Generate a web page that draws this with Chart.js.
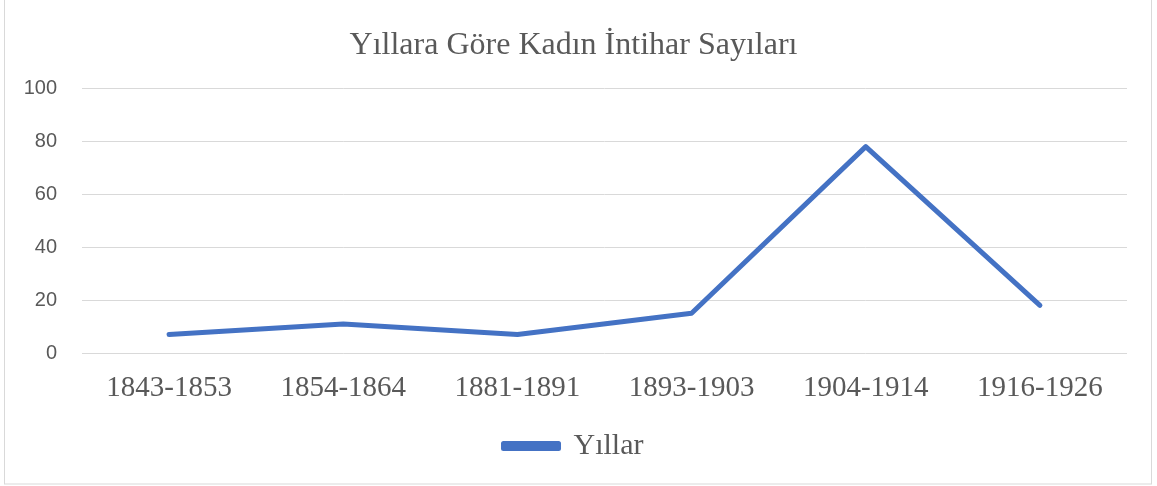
<!DOCTYPE html>
<html><head><meta charset="utf-8">
<script src="https://cdn.jsdelivr.net/npm/chart.js@4"></script>
<style>html,body{margin:0;padding:0;background:#fff;}#wrap{width:1157px;height:486px;position:relative;}</style>
</head><body><div id="wrap"><canvas id="c" width="1157" height="486"></canvas></div>
<script>
const categories = ["1843-1853","1854-1864","1881-1891","1893-1903","1904-1914","1916-1926"];
const seriesName = "Yıllar";
const values = [7, 11, 7, 15, 78, 18];
const titleText = "Yıllara Göre Kadın İntihar Sayıları";

const borderPlugin = {
  id: 'outerBorder',
  afterDraw(chart) {
    const ctx = chart.ctx;
    ctx.save();
    ctx.strokeStyle = '#d9d9d9';
    ctx.lineWidth = 1;
    ctx.strokeRect(4.5, -1, 1147, 485);
    ctx.restore();
  }
};

new Chart(document.getElementById('c'), {
  type: 'line',
  data: {
    labels: categories,
    datasets: [{
      label: seriesName,
      data: values,
      borderColor: '#4472c4',
      backgroundColor: '#4472c4',
      borderWidth: 5,
      pointRadius: 0,
      pointHoverRadius: 0,
      tension: 0,
      borderCapStyle: 'round',
      borderJoinStyle: 'round',
      fill: false
    }]
  },
  options: {
    responsive: false,
    animation: false,
    layout: { padding: { left: 20, right: 30, top: 0, bottom: 15 } },
    plugins: {
      title: {
        display: true,
        text: titleText,
        color: '#595959',
        font: { family: 'Liberation Serif', size: 32, weight: 'normal' },
        padding: { top: 26, bottom: 24 }
      },
      legend: {
        display: true,
        position: 'bottom',
        labels: {
          color: '#595959',
          font: { family: 'Liberation Serif', size: 30 },
          boxWidth: 55,
          boxHeight: 5,
          padding: 10
        }
      },
      tooltip: { enabled: false }
    },
    scales: {
      x: {
        offset: true,
        afterFit(scale) { scale.height = 68; },
        grid: { display: false, drawTicks: false },
        border: { display: false },
        ticks: {
          color: '#595959',
          font: { family: 'Liberation Serif', size: 29 },
          padding: 18,
          maxRotation: 0
        }
      },
      y: {
        min: 0, max: 100,
        afterFit(scale) { scale.width = 62; },
        grid: { color: '#d9d9d9', lineWidth: 1, drawTicks: false },
        border: { display: false },
        ticks: {
          stepSize: 20,
          color: '#595959',
          font: { family: 'Liberation Sans', size: 20 },
          padding: 25
        }
      }
    }
  },
  plugins: [borderPlugin]
});
</script></body></html>
